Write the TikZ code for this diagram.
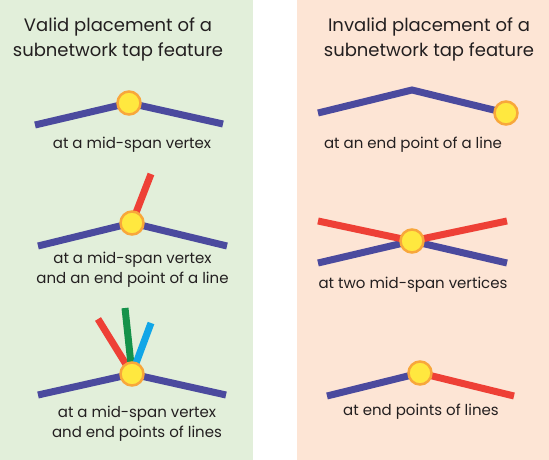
\documentclass[tikz,border=0pt]{standalone}
\usepackage{fontspec}
\setmainfont{Poppins}
\usetikzlibrary{positioning}
\definecolor{validbg}{HTML}{E2EFDA}
\definecolor{invalidbg}{HTML}{FDE5D5}
\definecolor{netblue}{HTML}{4B4A9E}
\definecolor{netred}{HTML}{EE4036}
\definecolor{netgreen}{HTML}{15924A}
\definecolor{netcyan}{HTML}{11A6E7}
\definecolor{tapfill}{HTML}{FFE83F}
\definecolor{tapring}{HTML}{F8A73B}
\definecolor{textgray}{HTML}{231F20}
\tikzstyle{tap}=[circle,fill=tapfill,draw=tapring,line width=2.5pt,minimum size=23pt,inner sep=0pt]
\tikzstyle{netline}=[draw,line width=7pt]
\tikzstyle{paneltitle}=[font=\fontsize{18}{25}\selectfont,text=textgray,align=center,anchor=base]
\tikzstyle{caption}=[font=\fontsize{15}{19.5}\selectfont,text=textgray,align=center,anchor=base]

\begin{document}
\begin{tikzpicture}[x=1pt,y=-1pt]

\useasboundingbox (0,0) rectangle (549,460);

% the two panels
    \fill[validbg] (0,0) rectangle (253,460);
    \fill[invalidbg] (297,0) rectangle (549,460);

    \node[paneltitle] (validtitle) at (118,57) {Valid placement of a\\subnetwork tap feature};
    \node[paneltitle] (invalidtitle) at (429,57) {Invalid placement of a\\subnetwork tap feature};

    % end points and vertices of the lines
    \foreach \pos/\name in {{(35,125)/a1l}, {(129,103)/v1}, {(223,124)/a1r},
                            {(38,246)/a2l}, {(132,223)/v2}, {(227,246)/a2r}, {(151,174)/a2e},
                            {(38,395)/a3l}, {(132,374)/v3}, {(226,395)/a3r},
                            {(98,319)/a3red}, {(125,308)/a3green}, {(151,323)/a3cyan}}
        \node[coordinate] (\name) at \pos {};

    \foreach \pos/\name in {{(318,113)/b1l}, {(412,90)/b1m}, {(506,113)/v4},
                            {(318,263)/b2l}, {(412,241)/v5}, {(507,263)/b2r},
                            {(318,221)/b2rl}, {(507,221)/b2rr},
                            {(327,396)/b3l}, {(420,373)/v6}, {(514,396)/b3r}}
        \node[coordinate] (\name) at \pos {};

    % valid placements
    \path[netline, netblue] (a1l) -- (v1) -- (a1r);
    \path[netline, netblue] (a2l) -- (v2) -- (a2r);
    \path[netline, netred] (v2) -- (a2e);
    \path[netline, netblue] (a3l) -- (v3) -- (a3r);
    \foreach \dest/\col in {a3red/netred, a3green/netgreen, a3cyan/netcyan}
          \path[netline, \col] (v3) -- (\dest);

    % invalid placements
    \path[netline, netblue] (b1l) -- (b1m) -- (v4);
    \path[netline, netblue] (b2l) -- (v5) -- (b2r);
    \path[netline, netred] (b2rl) -- (v5) -- (b2rr);
    \path[netline, netblue] (b3l) -- (v6);
    \path[netline, netred] (v6) -- (b3r);

    % the taps
    \foreach \name in {v1, v2, v3, v4, v5, v6}
        \node[tap] (tap\name) at (\name) {};

    \node[caption] (cap1) at (132,148) {at a mid-span vertex};
    \node[caption] (cap2) at (413,148) {at an end point of a line};
    \node[caption] (cap3) at (132.5,283) {at a mid-span vertex\\and an end point of a line};
    \node[caption] (cap4) at (413,288) {at two mid-span vertices};
    \node[caption] (cap5) at (137,437) {at a mid-span vertex\\and end points of lines};
    \node[caption] (cap6) at (421,415) {at end points of lines};

\end{tikzpicture}
\end{document}
